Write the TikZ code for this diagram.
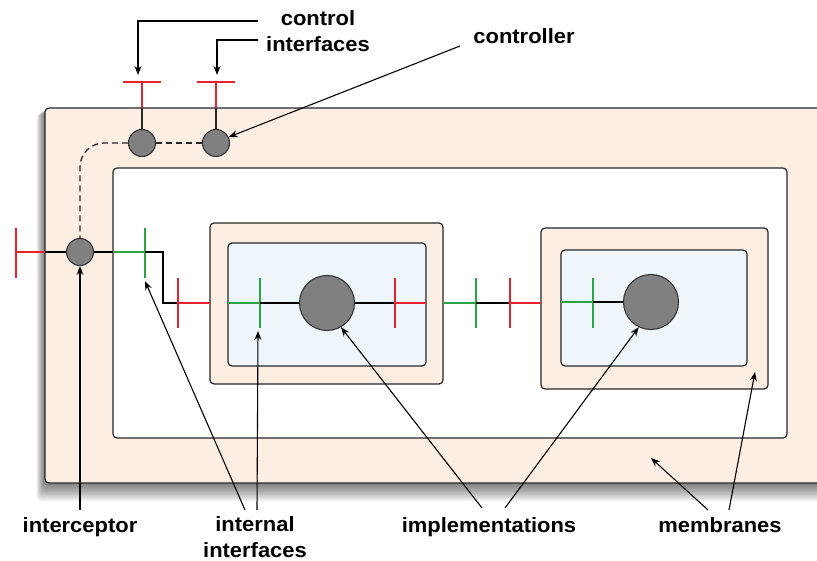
\documentclass[tikz,border=0pt]{standalone}
\usepackage{fontspec}
\setmainfont{Liberation Sans}
\newfontfamily\lblfont[FakeStretch=1.06]{Liberation Sans}
\usetikzlibrary{arrows.meta}
\definecolor{peach}{HTML}{FDEEE4}
\definecolor{ltblue}{HTML}{EEF6FC}
\definecolor{ired}{HTML}{E8232E}
\definecolor{igreen}{HTML}{2CA444}
\definecolor{cgray}{HTML}{808080}
\begin{document}
\begin{tikzpicture}[x=1pt,y=-1pt,
 lbl/.style={font=\lblfont\bfseries\fontsize{20.7}{26}\selectfont, inner sep=0pt, align=center, anchor=base},
 comp/.style={circle, draw=black!80, fill=cgray, line width=1.1pt, inner sep=0pt},
 box/.style={draw=black!85, line width=1.2pt, rounded corners=4pt},
 ptr/.style={line width=1.1pt, -{Stealth[length=9pt,width=7pt]}},
 redl/.style={ired, line width=2.2pt},
 greenl/.style={igreen, line width=2.2pt},
 wire/.style={black, line width=2.2pt},
 ctrlwire/.style={black!85, line width=1.3pt},
]
\useasboundingbox (0,0) rectangle (817,561);
\fill[white] (0,0) rectangle (817,561);
\begin{scope}
\clip (0,0) rectangle (817,561);
% shadow of the outer membrane
\foreach \i in {1,...,12}
  \fill[black, opacity=0.05, rounded corners=4pt] (45-\i*0.7, 108+\i*0.5) rectangle (840, 483+\i*1.5);
% outer membrane
\draw[box, fill=peach] (45,108) rectangle (840,483);
\end{scope}
% inner content area
\draw[box, fill=white] (113,168) rectangle (787,438);
% component 1
\draw[box, fill=peach] (210,223) rectangle (443,384);
\draw[box, fill=ltblue] (228,243) rectangle (426,366);
% component 2
\draw[box, fill=peach] (541,228) rectangle (768,389);
\draw[box, fill=ltblue] (561,250) rectangle (747,366);

% circles
\node[comp, minimum size=27pt] (c1) at (142,143) {};
\node[comp, minimum size=27pt] (c2) at (216,143) {};
\node[comp, minimum size=27pt] (ic) at (80,252) {};
\node[comp, minimum size=55pt] (impl1) at (327,303) {};
\node[comp, minimum size=55pt] (impl2) at (651,302) {};

% control interfaces
\draw[redl] (123,82) -- (161,82);
\draw[redl] (142,82) -- (142,108);
\draw[ctrlwire] (142,108) -- (c1.north);
\draw[redl] (197,82) -- (235,82);
\draw[redl] (216,82) -- (216,108);
\draw[ctrlwire] (216,108) -- (c2.north);
% dashed control links
\draw[ctrlwire, dash pattern=on 6pt off 4pt, rounded corners=24pt] (c1.west) -| (ic.north);
\draw[ctrlwire, dash pattern=on 6pt off 4pt] (c1.east) -- (c2.west);

% external interface and interceptor
\draw[redl] (16,228) -- (16,278);
\draw[redl] (16,252) -- (45,252);
\draw[wire] (45,252) -- (ic.west);
\draw[wire] (ic.east) -- (113,252);
\draw[greenl] (113,252) -- (145,252);
\draw[greenl] (145,228) -- (145,278);
\draw[wire] (145,252) -- (163,252) -- (163,303) -- (178,303);
\draw[redl] (178,278) -- (178,328);
\draw[redl] (178,303) -- (210,303);

% component 1 interfaces
\draw[greenl] (228,303) -- (260,303);
\draw[greenl] (260,278) -- (260,328);
\draw[wire] (260,303) -- (impl1.west);
\draw[wire] (impl1.east) -- (395,303);
\draw[redl] (395,278) -- (395,328);
\draw[redl] (395,303) -- (426,303);

% binding between components
\draw[greenl] (443,303) -- (476,303);
\draw[greenl] (476,278) -- (476,328);
\draw[wire] (476,303) -- (510,303);
\draw[redl] (510,278) -- (510,328);
\draw[redl] (510,303) -- (541,303);

% component 2 interfaces
\draw[greenl] (561,302) -- (593,302);
\draw[greenl] (593,278) -- (593,328);
\draw[wire] (593,302) -- (impl2.west);

% labels
\node[lbl] (lctl) at (318,52) {control\\interfaces};
\node[lbl] (lcontroller) at (524,44) {controller};
\node[lbl] (linterceptor) at (80,532) {interceptor};
\node[lbl] (linternal) at (255,557) {internal\\interfaces};
\node[lbl] (limpl) at (489,532) {implementations};
\node[lbl] (lmemb) at (720,532) {membranes};

% pointer end coordinates
\coordinate (t1) at (258,21);
\coordinate (t2) at (258,40);
\coordinate (ci1) at (138,75);
\coordinate (ci2) at (217,75);
\coordinate (t3) at (460,46);
\coordinate (t4) at (80,510);
\coordinate (t5) at (245,510);
\coordinate (t6) at (257,510);
\coordinate (g1) at (145,281);
\coordinate (g2) at (258,331);
\coordinate (t7) at (482,508);
\coordinate (t8) at (505,508);
\coordinate (t9) at (708,510);
\coordinate (t10) at (729,510);
\coordinate (m1) at (651,458);
\coordinate (m2) at (755,372);

% pointers
\draw[ptr] (t1) -| (ci1);
\draw[ptr] (t2) -| (ci2);
\draw[ptr] (t3) -- (c2.25);
\draw[ptr] (t4) -- (ic.south);
\draw[ptr] (t5) -- (g1);
\draw[ptr] (t6) -- (g2);
\draw[ptr] (t7) -- (impl1.-60);
\draw[ptr] (t8) -- (impl2.-116);
\draw[ptr] (t9) -- (m1);
\draw[ptr] (t10) -- (m2);
\end{tikzpicture}
\end{document}
